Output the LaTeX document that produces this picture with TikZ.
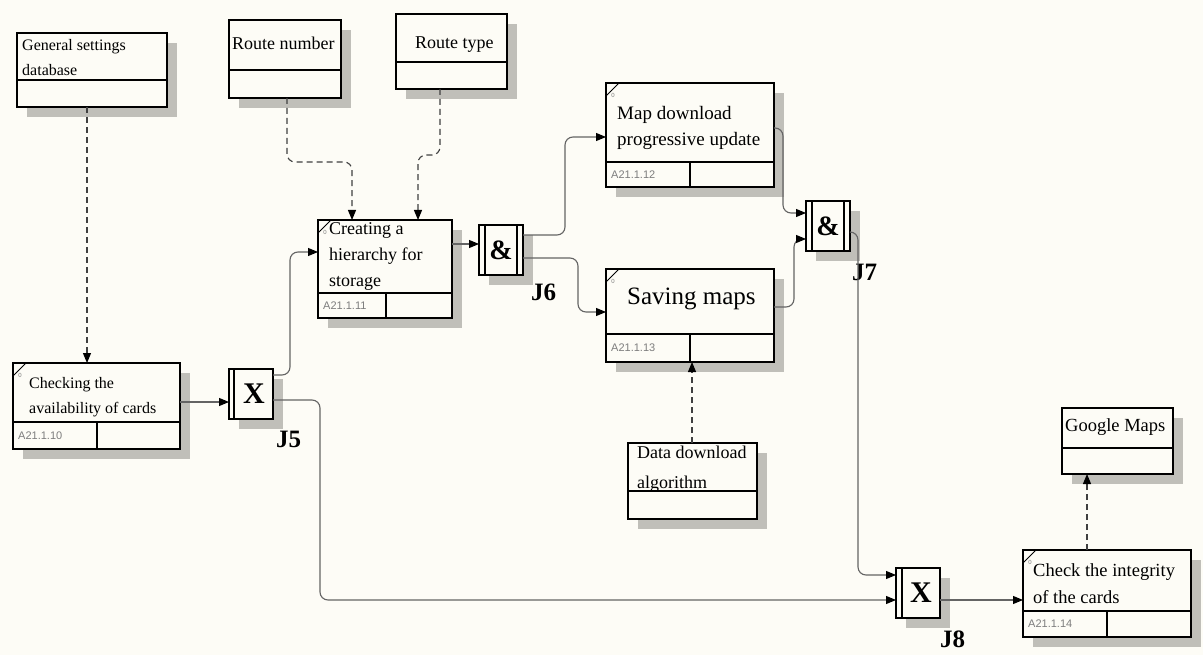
\documentclass[tikz,border=0pt]{standalone}
\usepackage{fontspec}
\setmainfont{Liberation Serif}
\newfontfamily\codefont{Liberation Sans}
\usetikzlibrary{arrows.meta,shadows}
\definecolor{bg}{RGB}{253,252,246}
\definecolor{shd}{RGB}{192,191,185}
\definecolor{ln}{RGB}{100,100,100}
\definecolor{codegray}{RGB}{125,125,125}
\newcommand\mkbox[6]{%
  \node[box, minimum width=#4pt, minimum height=#5pt] (#1) at (#2,#3) {};
  \draw[divl] ([yshift=-#6pt]#1.north west) -- ([yshift=-#6pt]#1.north east);}
\newcommand\mkact[8]{%
  \mkbox{#1}{#2}{#3}{#4}{#5}{#6}
  \draw[divl] ([xshift=#7pt,yshift=-#6pt]#1.north west) -- ([xshift=#7pt]#1.south west);
  \draw[line width=1pt] ([yshift=-13pt]#1.north west) -- ([xshift=13pt]#1.north west);
  \node[zero] (#1zero) at ([xshift=7pt,yshift=-12pt]#1.north west) {0};
  \node[code] (#1code) at ([xshift=5pt,yshift={(#5-#6)/2}]#1.south west) {#8};}
\begin{document}
\begin{tikzpicture}[x=1pt,y=-1pt,
  box/.style={draw=black, line width=1.4pt, fill=bg, inner sep=0pt, outer sep=0pt, anchor=north west,
    drop shadow={shadow xshift=10pt, shadow yshift=-10pt, fill=shd, opacity=1}},
  divl/.style={draw=black, line width=1.3pt},
  txt/.style={anchor=north west, inner sep=0pt, align=left},
  code/.style={anchor=west, inner sep=0pt, font=\codefont\fontsize{11}{11}\selectfont, text=codegray},
  zero/.style={inner sep=0pt, font=\codefont\fontsize{6}{6}\selectfont, text=codegray},
  flow/.style={draw=ln, line width=1.1pt, rounded corners=8pt, -{Triangle[length=10pt,width=8pt,color=black]}},
  dflow/.style={flow, draw=black!75, dash pattern=on 6pt off 4pt},
  jbox/.style={box, minimum width=44pt, minimum height=50pt},
  jbar/.style={draw=black, line width=1.2pt},
  jsym/.style={inner sep=0pt, font=\bfseries\fontsize{30}{30}\selectfont},
  jlab/.style={anchor=base west, inner sep=0pt, font=\bfseries\fontsize{25}{25}\selectfont}]
\fill[bg] (0,0) rectangle (1203,655);
\useasboundingbox (0,0) rectangle (1203,655);

% boxes
\mkbox{GSD}{17}{33}{150}{74}{47}
\mkbox{RN}{229}{20}{112}{78}{50}
\mkbox{RT}{396}{14}{111}{75}{48}
\mkact{CH}{318}{220}{134}{98}{73}{68}{A21.1.11}
\mkact{MD}{606}{83}{168}{104}{79}{84}{A21.1.12}
\mkact{SM}{606}{269}{168}{93}{65}{84}{A21.1.13}
\mkact{CA}{13}{363}{167}{86}{59}{84}{A21.1.10}
\mkbox{DDA}{628}{443}{129}{76}{48}
\mkbox{GM}{1062}{408}{111}{66}{40}
\mkact{CI}{1023}{550}{168}{87}{61}{84}{A21.1.14}

% texts
\node[txt, font=\fontsize{16}{25}\selectfont] (GSDt) at (22,39) {General settings\\database};
\node[txt, font=\fontsize{18}{18}\selectfont] (RNt) at (232,37) {Route number};
\node[txt, font=\fontsize{18}{18}\selectfont] (RTt) at (415,37) {Route type};
\node[txt, font=\fontsize{18}{26}\selectfont] (CHt) at (329,222) {Creating a\\hierarchy for\\storage};
\node[txt, font=\fontsize{19}{26}\selectfont] (MDt) at (617,106) {Map download\\progressive update};
\node[txt, font=\fontsize{25}{25}\selectfont] (SMt) at (627,288) {Saving maps};
\node[txt, font=\fontsize{16}{25}\selectfont] (CAt) at (29,377) {Checking the\\availability of cards};
\node[txt, font=\fontsize{18}{30}\selectfont] (DDAt) at (637,446) {Data download\\algorithm};
\node[txt, font=\fontsize{18.5}{18.5}\selectfont] (GMt) at (1065,418) {Google Maps};
\node[txt, font=\fontsize{18.5}{27}\selectfont] (CIt) at (1033,563) {Check the integrity\\of the cards};

% junctions
\node[jbox] (J5) at (229,369) {};
\draw[jbar] ([xshift=5pt]J5.north west) -- ([xshift=5pt]J5.south west);
\node[jsym] (J5s) at ([xshift=3pt]J5.center) {X};
\node[jlab] (J5l) at (276,447) {J5};

\node[jbox] (J6) at (479,225) {};
\draw[jbar] ([xshift=6pt]J6.north west) -- ([xshift=6pt]J6.south west);
\draw[jbar] ([xshift=-6pt]J6.north east) -- ([xshift=-6pt]J6.south east);
\node[jsym, font=\bfseries\fontsize{28}{28}\selectfont] (J6s) at (J6.center) {\&};
\node[jlab] (J6l) at (531,301) {J6};

\node[jbox] (J7) at (806,201) {};
\draw[jbar] ([xshift=6pt]J7.north west) -- ([xshift=6pt]J7.south west);
\draw[jbar] ([xshift=-6pt]J7.north east) -- ([xshift=-6pt]J7.south east);
\node[jsym, font=\bfseries\fontsize{28}{28}\selectfont] (J7s) at (J7.center) {\&};
\node[jlab] (J7l) at (852,280) {J7};

\node[jbox] (J8) at (896,568) {};
\draw[jbar] ([xshift=6pt]J8.north west) -- ([xshift=6pt]J8.south west);
\node[jsym] (J8s) at ([xshift=3pt]J8.center) {X};
\node[jlab] (J8l) at (940,647) {J8};

% connectors
\draw[dflow] (87,0 |- GSD.south) -- (87,0 |- CA.north);
\draw[flow] (CA.east |- 0,402) -- (J5.west |- 0,402);
\draw[flow] (J5.east |- 0,375) -- (290,375) -- (290,252) -- (CH.west |- 0,252);
\draw[flow] (J5.east |- 0,400) -- (320,400) -- (320,600) -- (J8.west |- 0,600);
\draw[dflow] (287,0 |- RN.south) -- (287,162) -- (352,162) -- (352,0 |- CH.north);
\draw[dflow] (440,0 |- RT.south) -- (440,155) -- (418,155) -- (418,0 |- CH.north);
\draw[flow] (CH.east |- 0,244) -- (J6.west |- 0,244);
\draw[flow] (J6.east |- 0,235) -- (565,235) -- (565,137) -- (MD.west |- 0,137);
\draw[flow] (J6.east |- 0,258) -- (578,258) -- (578,312) -- (SM.west |- 0,312);
\draw[flow] (MD.east |- 0,128) -- (783,128) -- (783,213) -- (J7.west |- 0,213);
\draw[flow] (SM.east |- 0,307) -- (794,307) -- (794,239) -- (J7.west |- 0,239);
\draw[flow] (J7.east |- 0,232) -- (858,232) -- (858,575) -- (J8.west |- 0,575);
\draw[flow] (J8.east |- 0,600) -- (CI.west |- 0,600);
\draw[dflow] (692,0 |- DDA.north) -- (692,0 |- SM.south);
\draw[dflow] (1087,0 |- CI.north) -- (1087,0 |- GM.south);
\end{tikzpicture}
\end{document}
